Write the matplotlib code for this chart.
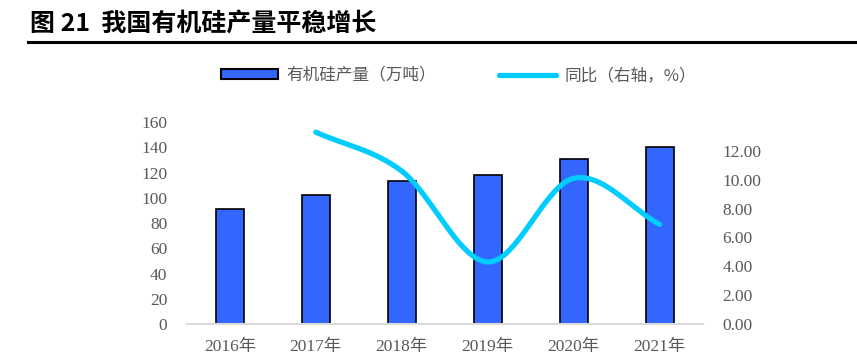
import numpy as np
import matplotlib
matplotlib.use("Agg")
import matplotlib.pyplot as plt
from matplotlib.lines import Line2D
from matplotlib.patches import Patch

plt.rcParams['font.family'] = ['Liberation Serif', 'Noto Sans CJK SC', 'DejaVu Sans']

years = ['2016年', '2017年', '2018年', '2019年', '2020年', '2021年']
output = [91, 102, 113, 118, 130.5, 140]          # 万吨
yoy_years = [1, 2, 3, 4, 5]                       # index into years
yoy = [13.3, 10.6, 4.3, 10.1, 6.9]                # %

bar_color = '#3366FF'
line_color = '#00CCFF'
text_color = '#595959'


def smooth(xs, ys, n=40):
    # Catmull-Rom style smoothing, similar to Excel's smoothed line
    xs = np.asarray(xs, float)
    ys = np.asarray(ys, float)
    px = np.concatenate([[2 * xs[0] - xs[1]], xs, [2 * xs[-1] - xs[-2]]])
    py = np.concatenate([[2 * ys[0] - ys[1]], ys, [2 * ys[-1] - ys[-2]]])
    out_x, out_y = [], []
    t = np.linspace(0, 1, n)
    for i in range(1, len(px) - 2):
        for p, out in ((px, out_x), (py, out_y)):
            p0, p1, p2, p3 = p[i - 1], p[i], p[i + 1], p[i + 2]
            out.extend(0.5 * (2 * p1 + (-p0 + p2) * t
                              + (2 * p0 - 5 * p1 + 4 * p2 - p3) * t ** 2
                              + (-p0 + 3 * p1 - 3 * p2 + p3) * t ** 3))
    return np.array(out_x), np.array(out_y)


fig = plt.figure(figsize=(8.57, 3.59), dpi=100)
ax = fig.add_axes([0.218, 0.0975, 0.602, 0.5625])
x = np.arange(len(years))
ax.bar(x, output, width=0.33, color=bar_color, edgecolor='black', linewidth=1.2, zorder=2)
ax.set_xlim(-0.5, len(years) - 0.5)
ax.set_ylim(0, 160)
ax.set_yticks(range(0, 161, 20))
ax.set_xticks(x)
ax.set_xticklabels(years)
for s in ['top', 'right', 'left']:
    ax.spines[s].set_visible(False)
ax.spines['bottom'].set_color('#D9D9D9')
ax.spines['bottom'].set_linewidth(1.5)
ax.tick_params(axis='both', length=0, colors=text_color, labelsize=12.5)
ax.tick_params(axis='y', pad=14)
ax.tick_params(axis='x', pad=11)

ax2 = ax.twinx()
sx, sy = smooth(yoy_years, yoy)
ax2.plot(sx, sy, color=line_color, linewidth=3.8, solid_capstyle='round', zorder=3)
ax2.set_ylim(0, 14)
ax2.set_yticks(np.arange(0, 13, 2))
ax2.set_yticklabels([f'{v:.2f}' for v in np.arange(0, 13, 2)])
for s in ['top', 'right', 'left', 'bottom']:
    ax2.spines[s].set_visible(False)
ax2.tick_params(axis='y', length=0, colors=text_color, labelsize=12.5, pad=14)

handles = [Patch(facecolor=bar_color, edgecolor='black', linewidth=1.5),
           Line2D([0], [0], color=line_color, linewidth=3.8, solid_capstyle='round')]
labels = ['有机硅产量（万吨）', '同比（右轴，%）']
leg = fig.legend(handles, labels, loc='center', bbox_to_anchor=(0.535, 0.79), ncol=2,
                 frameon=False, handlelength=3.4, handleheight=0.5, handletextpad=0.5,
                 columnspacing=3.8,
                 prop={'family': ['Noto Sans CJK SC'], 'size': 12})
for t in leg.get_texts():
    t.set_color(text_color)

fig.text(0.035, 0.935, '图 21  我国有机硅产量平稳增长', fontsize=18, fontweight='bold',
         family=['Noto Sans CJK SC'], va='center', ha='left')
fig.add_artist(Line2D([0.033, 1.0], [0.883, 0.883], color='black', linewidth=2.2,
                      transform=fig.transFigure))

fig.savefig('out.png', dpi=100)
